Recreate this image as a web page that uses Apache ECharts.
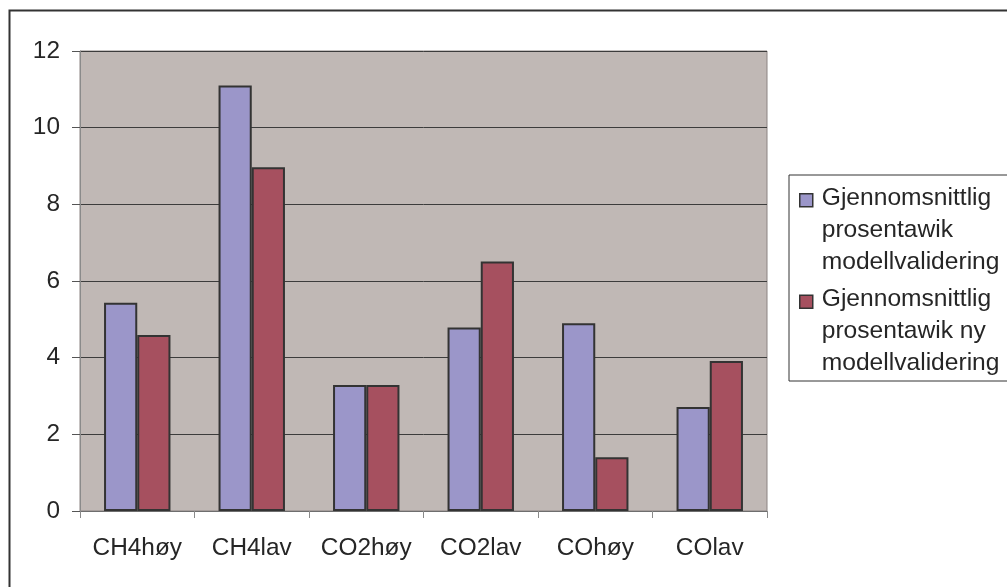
<!DOCTYPE html>
<html>
<head>
<meta charset="utf-8">
<script src="https://cdn.jsdelivr.net/npm/echarts@6/dist/echarts.min.js"></script>
<style>
  html, body { margin: 0; padding: 0; background: #ffffff; }
  #chart { width: 1007px; height: 587px; }
</style>
</head>
<body>
<div id="chart"></div>
<script>
// Gas components
const categories = ['CH4høy', 'CH4lav', 'CO2høy', 'CO2lav', 'COhøy', 'COlav'];

// Mean percentage deviation, model validation
const seriesNames = [
  'Gjennomsnittlig\nprosentawik\nmodellvalidering',
  'Gjennomsnittlig\nprosentawik ny\nmodellvalidering'
];
const avvikModell = [5.43, 11.1, 3.29, 4.79, 4.9, 2.71];
const avvikNyModell = [4.59, 8.97, 3.29, 6.51, 1.4, 3.91];

// Y axis scale
const yMin = 0;
const yMax = 12;
const yStep = 2;

const FONT = "'Liberation Sans', Arial, sans-serif";
const TEXT = '#262626';

const chart = echarts.init(document.getElementById('chart'), null, { renderer: 'canvas' });

chart.setOption({
  animation: false,
  textStyle: { fontFamily: FONT },
  graphic: [{
    type: 'rect',
    left: 7, top: 8,
    shape: { width: 1100, height: 700 },
    style: { fill: 'none', stroke: '#333333', lineWidth: 2 },
    silent: true
  }],
  grid: {
    left: 80, right: 240, top: 51, bottom: 76,
    show: true,
    backgroundColor: '#c0b8b5',
    borderColor: '#8c8482',
    borderWidth: 1
  },
  legend: {
    orient: 'vertical',
    left: 789,
    top: 175,
    padding: [6, 40, 1, 10],
    itemGap: 4,
    itemWidth: 17,
    itemHeight: 96,
    icon: 'path://M0 0M17 96M0 12H13V25H0Z',
    itemStyle: { borderColor: '#333333', borderWidth: 1.5 },
    borderColor: '#333333',
    borderWidth: 1,
    backgroundColor: '#ffffff',
    textStyle: { fontSize: 24.6, lineHeight: 32, color: TEXT, fontFamily: FONT }
  },
  xAxis: {
    type: 'category',
    data: categories,
    axisLine: { lineStyle: { color: '#6e6e6e', width: 1 } },
    axisTick: { show: true, length: 7, lineStyle: { color: '#8a8a8a' } },
    axisLabel: { interval: 0, fontSize: 24.4, color: TEXT, margin: 25, fontFamily: FONT },
    splitLine: { show: false }
  },
  yAxis: {
    type: 'value',
    min: yMin, max: yMax, interval: yStep,
    axisLine: { show: true, lineStyle: { color: '#8a8a8a', width: 1 } },
    axisTick: { show: true, length: 8, lineStyle: { color: '#555555' } },
    axisLabel: { fontSize: 24.4, color: TEXT, margin: 20, fontFamily: FONT },
    splitLine: { show: true, lineStyle: { color: '#3c3c3c', width: 1 } }
  },
  series: [
    {
      name: seriesNames[0],
      type: 'bar',
      data: avvikModell,
      barGap: '0%',
      barCategoryGap: '42%',
      itemStyle: { color: '#9b96c9', borderColor: '#333333', borderWidth: 2 }
    },
    {
      name: seriesNames[1],
      type: 'bar',
      data: avvikNyModell,
      barGap: '0%',
      barCategoryGap: '42%',
      itemStyle: { color: '#a6505f', borderColor: '#333333', borderWidth: 2 }
    }
  ]
});
</script>
</body>
</html>
